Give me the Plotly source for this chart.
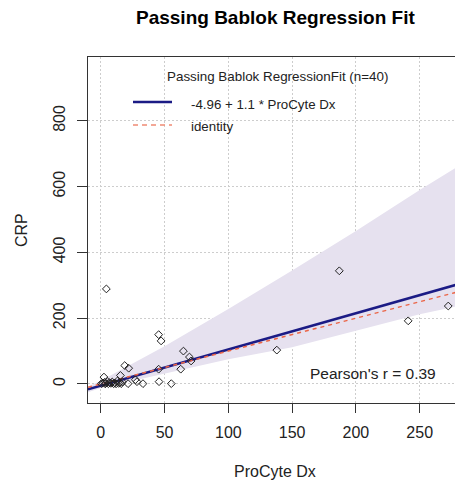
import plotly.graph_objects as go

# ---- data ----
procyte_dx = [4.4, 45.4, 47.3, 64.8, 69.5, 70.8, 62.7, 45.4, 45.7, 55.3,
              138.0, 187.0, 241.0, 272.4, 18.8, 21.9, 15.4, 2.5, 27.1, 28.4,
              33.1, 21.4, 0.5, 1.5, 3.0, 4.0, 5.0, 6.0, 7.0, 8.0,
              9.0, 10.0, 11.0, 12.0, 13.0, 14.0, 15.0, 16.0, 17.0, 3.5]
crp = [289, 150, 131, 100, 82, 70, 45, 45, 7, 1,
       103, 344, 192, 237, 56, 48, 26, 21, 13, 7,
       1, 1, 1, 3, 5, 2, 8, 1, 4, 2,
       6, 1, 3, 0.5, 9, 2, 4, 1, 6, 0.5]

band_x = [-10, 0, 25, 50, 100, 150, 200, 250, 290]
band_upper = [-8, 10, 62, 115, 228, 345, 465, 590, 685]
band_lower = [-25, -12, 10, 32, 75, 112, 162, 212, 245]

fit_intercept = -4.96
fit_slope = 1.1
line_x = [-10, 290]

x_ticks = [0, 50, 100, 150, 200, 250]
y_ticks = [0, 200, 400, 600, 800]

title_text = "Passing Bablok Regression Fit"
legend_title = "Passing Bablok RegressionFit (n=40)"
legend_fit = "-4.96 + 1.1 * ProCyte Dx"
legend_identity = "identity"
pearson_text = "Pearson's r = 0.39"
x_label = "ProCyte Dx"
y_label = "CRP"

# ---- layout geometry (pixels) ----
W, H = 455, 480
L, R, T, B = 88, 0, 57, 77
PW = W - L - R
PH = H - T - B

def px(x):
    return (x - L) / PW

def py(y):
    return (H - B - y) / PH

FONT = "Liberation Sans, Arial, sans-serif"
NAVY = "#1B1B85"
SALMON = "#EB6547"
BAND = "#E6E1EF"
GRID = "#CDCDCD"
AXC = "#333333"

fig = go.Figure()

fig.add_trace(go.Scatter(
    x=band_x + band_x[::-1], y=band_upper + band_lower[::-1],
    fill="toself", fillcolor=BAND, line=dict(width=0),
    mode="lines", hoverinfo="skip", showlegend=False))

fig.add_trace(go.Scatter(
    x=line_x, y=[fit_intercept + fit_slope * v for v in line_x],
    mode="lines", line=dict(color=NAVY, width=2.5), showlegend=False))

fig.add_trace(go.Scatter(
    x=line_x, y=line_x,
    mode="lines", line=dict(color=SALMON, width=1.5, dash="4px,4px"), showlegend=False))

fig.add_trace(go.Scatter(
    x=procyte_dx, y=crp, mode="markers",
    marker=dict(symbol="diamond-open", size=6, color="#222222", line=dict(width=1, color="#222222")),
    showlegend=False))

fig.update_xaxes(
    range=[-10, PW / 1.2757 - 10], tickvals=x_ticks,
    showgrid=True, gridcolor=GRID, griddash="2px,2px", gridwidth=1,
    showline=True, linecolor=AXC, linewidth=1, mirror=True,
    ticks="outside", ticklen=9, tickcolor=AXC, tickwidth=1,
    tickfont=dict(family=FONT, size=16, color="#222"),
    ticklabelstandoff=6, zeroline=False)

fig.update_yaxes(
    range=[-57.8, 994], tickvals=y_ticks,
    showgrid=True, gridcolor=GRID, griddash="2px,2px", gridwidth=1,
    showline=True, linecolor=AXC, linewidth=1,
    ticks="outside", ticklen=10, tickcolor=AXC, tickwidth=1,
    tickangle=-90,
    tickfont=dict(family=FONT, size=16, color="#222"),
    ticklabelstandoff=6, zeroline=False)

shapes = [
    dict(type="rect", xref="paper", yref="paper",
         x0=px(89), x1=1.0, y0=py(143), y1=py(62),
         fillcolor="white", line=dict(width=0), layer="between"),
    dict(type="line", xref="paper", yref="paper",
         x0=px(133), x1=px(172), y0=py(102), y1=py(102),
         line=dict(color=NAVY, width=2.5)),
    dict(type="line", xref="paper", yref="paper",
         x0=px(133), x1=px(172), y0=py(125), y1=py(125),
         line=dict(color="#F08A74", width=1.5, dash="5px,4px")),
]

annotations = [
    dict(text="<b>" + title_text + "</b>", xref="paper", yref="paper",
         x=px(275), y=py(18), showarrow=False, xanchor="center", yanchor="middle",
         font=dict(family=FONT, size=19, color="black")),
    dict(text=legend_title, xref="paper", yref="paper",
         x=px(277), y=py(77), showarrow=False, xanchor="center", yanchor="middle",
         font=dict(family=FONT, size=13.4, color="#222")),
    dict(text=legend_fit, xref="paper", yref="paper",
         x=px(189), y=py(104), showarrow=False, xanchor="left", yanchor="middle",
         font=dict(family=FONT, size=13.3, color="#222")),
    dict(text=legend_identity, xref="paper", yref="paper",
         x=px(189), y=py(126), showarrow=False, xanchor="left", yanchor="middle",
         font=dict(family=FONT, size=13.3, color="#222")),
    dict(text=pearson_text, xref="paper", yref="paper",
         x=px(373), y=py(373), showarrow=False, xanchor="center", yanchor="middle",
         font=dict(family=FONT, size=15.5, color="#222")),
    dict(text=x_label, xref="paper", yref="paper",
         x=px(275), y=py(471), showarrow=False, xanchor="center", yanchor="middle",
         font=dict(family=FONT, size=16, color="#222")),
    dict(text=y_label, xref="paper", yref="paper",
         x=px(21), y=py(230), showarrow=False, xanchor="center", yanchor="middle",
         textangle=-90, font=dict(family=FONT, size=16, color="#222")),
]

fig.update_layout(
    width=W, height=H,
    margin=dict(l=L, r=R, t=T, b=B, pad=0),
    paper_bgcolor="white", plot_bgcolor="white",
    shapes=shapes, annotations=annotations,
    showlegend=False, hovermode=False)

fig.write_html(
    "out.html",
    config={"displayModeBar": False, "staticPlot": True},
    post_script="document.body.style.margin='0';document.body.style.overflow='hidden';")
